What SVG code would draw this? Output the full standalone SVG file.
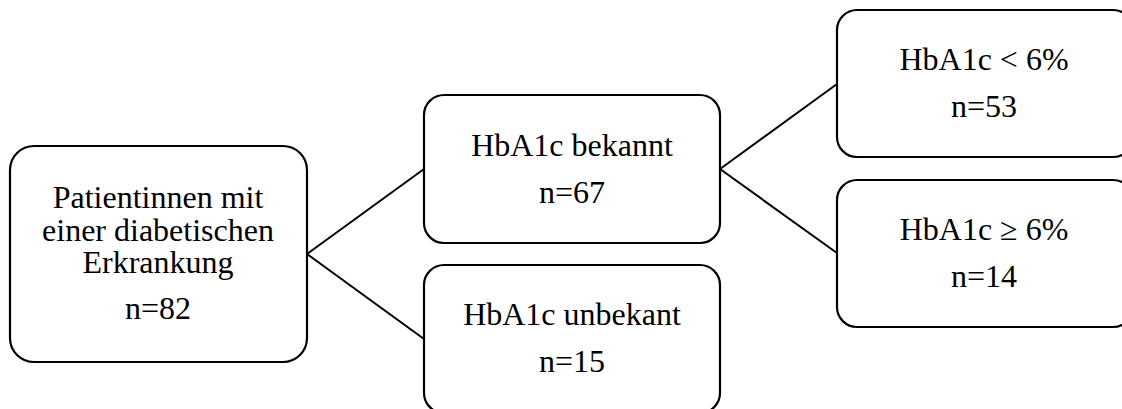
<svg xmlns="http://www.w3.org/2000/svg" width="1122" height="409" viewBox="0 0 1122 409">
<style>
.box{fill:#fff;stroke:#000;stroke-width:2.2}
.lbl{font-size:32px;fill:#000;text-anchor:middle}
.c{stroke:#000;stroke-width:2;fill:none}
</style>
<rect width="1122" height="409" fill="#fff"/>
<g id="connectors">
<line class="c" x1="307" y1="254" x2="424" y2="169"/>
<line class="c" x1="307" y1="254" x2="424" y2="339"/>
<line class="c" x1="720" y1="169" x2="837" y2="84"/>
<line class="c" x1="720" y1="169" x2="837" y2="253"/>
</g>
<g id="root">
<rect class="box" x="10" y="146" width="297" height="216" rx="24"/>
<text class="lbl" style="font-family:'Liberation Serif',serif" x="158" y="208">Patientinnen mit</text>
<text class="lbl" style="font-family:'Liberation Serif',serif" x="158" y="241">einer diabetischen</text>
<text class="lbl" style="font-family:'Liberation Serif',serif" x="158" y="273">Erkrankung</text>
<text class="lbl" style="font-family:'Liberation Serif',serif" x="158" y="319">n=82</text>
</g>
<g id="known">
<rect class="box" x="424" y="95" width="296" height="148" rx="20"/>
<text class="lbl" style="font-family:'Liberation Serif',serif" x="572" y="156">HbA1c bekannt</text>
<text class="lbl" style="font-family:'Liberation Serif',serif" x="572" y="203">n=67</text>
</g>
<g id="unknown">
<rect class="box" x="424" y="265" width="296" height="148" rx="20"/>
<text class="lbl" style="font-family:'Liberation Serif',serif" x="572" y="325">HbA1c unbekant</text>
<text class="lbl" style="font-family:'Liberation Serif',serif" x="572" y="372">n=15</text>
</g>
<g id="low">
<rect class="box" x="837" y="10" width="296" height="147" rx="20"/>
<text class="lbl" style="font-family:'Liberation Serif',serif" x="984" y="70">HbA1c &lt; 6%</text>
<text class="lbl" style="font-family:'Liberation Serif',serif" x="984" y="117">n=53</text>
</g>
<g id="high">
<rect class="box" x="837" y="180" width="296" height="147" rx="20"/>
<text class="lbl" style="font-family:'Liberation Serif',serif" x="984" y="240">HbA1c ≥ 6%</text>
<text class="lbl" style="font-family:'Liberation Serif',serif" x="984" y="287">n=14</text>
</g>
</svg>
